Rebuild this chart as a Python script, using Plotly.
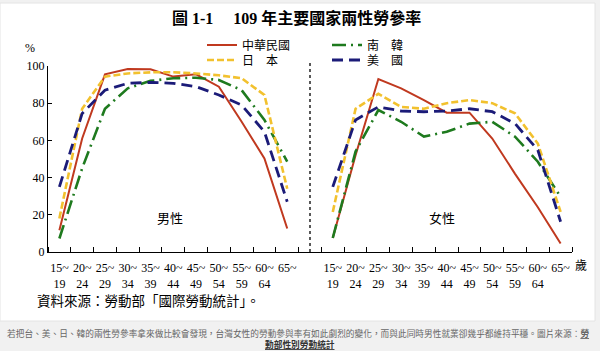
import plotly.graph_objects as go

# ---------------- data ----------------
age_groups = ["15~<br>19", "20~<br>24", "25~<br>29", "30~<br>34", "35~<br>39",
              "40~<br>44", "45~<br>49", "50~<br>54", "55~<br>59", "60~<br>64", "65~"]

countries = ["中華民國", "南　韓", "日　本", "美　國"]

male_taiwan = [11.7, 61.0, 95.5, 98.4, 98.2, 94.3, 95.5, 88.9, 70.0, 50.3, 12.6]
male_korea  = [7.2, 45.0, 77.0, 88.0, 92.0, 93.4, 93.7, 92.5, 87.0, 71.0, 48.5]
male_japan  = [18.0, 77.0, 94.3, 96.0, 96.6, 96.6, 96.0, 95.0, 93.4, 84.4, 34.0]
male_usa    = [35.0, 74.5, 87.0, 90.7, 91.2, 90.7, 88.9, 84.4, 79.0, 64.6, 27.0]

female_taiwan = [7.5, 52.0, 93.0, 88.0, 81.7, 74.9, 74.9, 61.0, 42.0, 24.0, 4.5]
female_korea  = [7.5, 54.0, 76.3, 70.0, 62.0, 64.6, 69.0, 70.0, 62.0, 48.5, 29.6]
female_japan  = [21.5, 77.0, 85.0, 78.0, 77.0, 80.0, 81.7, 80.0, 74.5, 58.3, 21.5]
female_usa    = [35.0, 71.0, 78.0, 75.8, 75.4, 75.8, 77.0, 75.4, 69.0, 54.8, 16.2]

y_ticks = [0, 20, 40, 60, 80, 100]

# ---------------- layout helpers ----------------
W, H = 600, 351
L, R, T, B = 48, 28, 66, 99

def px_x(p):
    return (p - L) / (W - L - R)

def px_y(p):
    return (H - B - p) / (H - T - B)

all_labels = age_groups + [""] + age_groups
x_male = list(range(len(age_groups)))
gap_index = len(age_groups)
x_female = [gap_index + 1 + i for i in range(len(age_groups))]

styles = {
    "中華民國": dict(color="#c0391f", width=2, dash="solid", legend="legend"),
    "南　韓": dict(color="#1e7a1e", width=2.6, dash="14px,5px,2px,5px", legend="legend"),
    "日　本": dict(color="#f2c12e", width=2.6, dash="7px,3px", legend="legend2"),
    "美　國": dict(color="#1b1b78", width=2.8, dash="11px,6px", legend="legend2"),
}
male = {"中華民國": male_taiwan, "南　韓": male_korea, "日　本": male_japan, "美　國": male_usa}
female = {"中華民國": female_taiwan, "南　韓": female_korea, "日　本": female_japan, "美　國": female_usa}

FONT = "Liberation Serif, 'Noto Sans CJK TC', serif"

fig = go.Figure()
for c in countries:
    s = styles[c]
    line = dict(color=s["color"], width=s["width"], dash=s["dash"])
    fig.add_trace(go.Scatter(x=x_male, y=male[c], mode="lines", line=line, name=c,
                             legendgroup=c, legend=s["legend"], showlegend=True,
                             hoverinfo="skip"))
    fig.add_trace(go.Scatter(x=x_female, y=female[c], mode="lines", line=line, name=c,
                             legendgroup=c, legend=s["legend"], showlegend=False,
                             hoverinfo="skip"))

fig.update_layout(
    width=W, height=H,
    margin=dict(l=L, r=R, t=T, b=B, autoexpand=False),
    paper_bgcolor="#f1f1f1",
    plot_bgcolor="white",
    font=dict(family=FONT, size=12, color="black"),
    xaxis=dict(range=[-0.5, len(all_labels) - 0.5], tickmode="array",
               tickvals=list(range(len(all_labels))), ticktext=all_labels,
               ticks="", showline=True, linecolor="black", linewidth=1,
               showgrid=False, zeroline=False, tickangle=0, ticklabelstandoff=5,
               tickfont=dict(family=FONT, size=12),
               minor=dict(tickmode="array",
                          tickvals=[i - 0.5 for i in range(len(all_labels) + 1)],
                          ticks="inside", ticklen=5, tickcolor="black", tickwidth=1)),
    yaxis=dict(range=[-0.05, 100], tickmode="array", tickvals=y_ticks,
               ticks="inside", ticklen=4, tickcolor="black",
               showline=True, linecolor="black", linewidth=1,
               showgrid=False, zeroline=False,
               tickfont=dict(family=FONT, size=12)),
    legend=dict(orientation="h", x=px_x(202), y=px_y(45), xanchor="left", yanchor="middle",
                bgcolor="rgba(0,0,0,0)", entrywidth=80, font=dict(family=FONT, size=12),
                itemclick=False, itemdoubleclick=False),
    legend2=dict(orientation="h", x=px_x(202), y=px_y(60), xanchor="left", yanchor="middle",
                 bgcolor="rgba(0,0,0,0)", entrywidth=80, font=dict(family=FONT, size=12),
                 itemclick=False, itemdoubleclick=False),
    showlegend=True,
)

# card background and separator
fig.add_shape(type="rect", xref="paper", yref="paper",
              x0=px_x(0), x1=px_x(595), y0=px_y(321), y1=px_y(3),
              fillcolor="white", line=dict(color="#e4e4e4", width=1), layer="below")
fig.add_shape(type="line", xref="x", yref="paper", x0=gap_index, x1=gap_index,
              y0=0, y1=px_y(62), line=dict(color="black", width=1.3, dash="dot"))

def ann(text, x, y, size=12, color="black", xanchor="center", **kw):
    fig.add_annotation(text=text, xref="paper", yref="paper", x=px_x(x), y=px_y(y),
                       xanchor=xanchor, yanchor="middle", showarrow=False,
                       font=dict(family=FONT, size=size, color=color), **kw)

ann("<b>圖 1-1　 109 年主要國家兩性勞參率</b>", 296, 18, size=16)
ann("%", 30, 48, size=12)
ann("男性", 170, 218, size=13)
ann("女性", 442, 218, size=13)
ann("歲", 581, 266, size=12)
ann("資料來源：勞動部「國際勞動統計」。", 35, 301, size=13.5, xanchor="left")
ann("若把台、美、日、韓的兩性勞參率拿來做比較會發現，台灣女性的勞動參與率有如此劇烈的變化，"
    "而與此同時男性就業卻幾乎都維持平穩。圖片來源：<b><u>勞</u></b>",
    298, 333, size=8.7, color="#666666")
ann("<b><u>動部性別勞動統計</u></b>", 300, 344, size=8.7, color="#333333")

fig.write_html("out.html")
